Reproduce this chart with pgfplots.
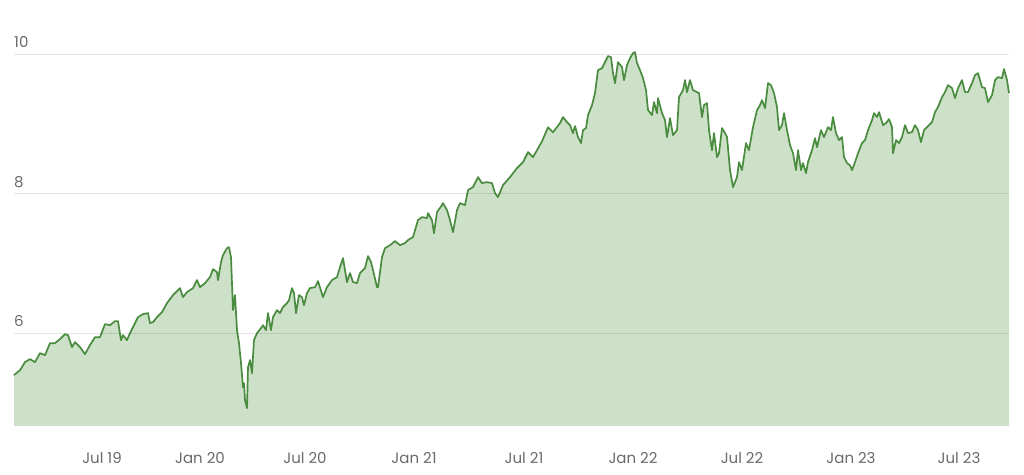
\documentclass[border=0pt]{standalone}
\usepackage{pgfplots}
\pgfplotsset{compat=1.18}
\usepackage{pgfplotstable}
\usetikzlibrary{calc}
\usepackage{fontspec}
\setmainfont{Poppins}
\definecolor{linegreen}{HTML}{4A8C3F}
\definecolor{fillgreen}{HTML}{CDE0C8}
\definecolor{labgray}{HTML}{6A6A6A}
\pgfplotstableread{
x v
14 5.398
20 5.469
25 5.584
30 5.627
35 5.584
40 5.713
45 5.684
50 5.856
55 5.856
60 5.914
65 5.985
68 5.971
72 5.799
75 5.871
80 5.799
85 5.699
90 5.828
95 5.942
100 5.942
105 6.129
110 6.114
115 6.172
118 6.172
121 5.899
123 5.971
127 5.899
130 6.000
133 6.086
138 6.229
143 6.272
148 6.287
150 6.143
153 6.157
157 6.229
162 6.301
167 6.430
173 6.545
180 6.645
183 6.516
187 6.588
193 6.645
197 6.760
200 6.659
205 6.717
210 6.803
213 6.917
217 6.874
218 6.760
221 7.018
223 7.118
227 7.218
229 7.233
231 7.089
233 6.330
235 6.545
237 6.043
239 5.856
241 5.570
243 5.226
244 5.283
245 5.039
247 4.925
248 5.512
250 5.613
252 5.426
254 5.899
257 6.000
261 6.071
263 6.114
266 6.043
268 6.287
271 6.043
273 6.229
277 6.330
280 6.287
283 6.373
287 6.430
289 6.473
292 6.645
294 6.573
296 6.287
299 6.545
302 6.516
304 6.401
307 6.573
310 6.645
315 6.659
318 6.745
323 6.516
327 6.659
332 6.760
337 6.803
340 6.946
343 7.075
347 6.731
350 6.860
353 6.731
357 6.717
360 6.860
365 6.932
368 7.104
371 7.018
373 6.903
377 6.659
378 6.659
382 7.089
385 7.218
390 7.261
395 7.319
400 7.261
405 7.290
408 7.333
413 7.376
418 7.620
422 7.663
427 7.649
428 7.720
432 7.620
434 7.433
437 7.735
442 7.835
443 7.864
447 7.763
450 7.620
453 7.448
457 7.763
460 7.864
465 7.835
468 8.050
473 8.093
478 8.236
482 8.150
487 8.165
492 8.150
495 8.007
498 7.950
503 8.122
510 8.236
517 8.365
523 8.451
528 8.595
533 8.523
537 8.623
542 8.750
548 8.950
553 8.880
560 9.011
563 9.097
567 9.025
570 8.982
573 8.867
575 8.968
578 8.810
581 8.724
583 8.910
586 8.939
588 9.125
592 9.269
595 9.441
598 9.770
602 9.799
605 9.885
608 9.971
611 9.957
613 9.727
615 9.584
618 9.885
622 9.813
624 9.627
627 9.842
630 9.942
633 10.014
635 10.028
637 9.871
640 9.770
643 9.656
646 9.484
648 9.197
652 9.125
654 9.312
657 9.154
658 9.369
662 9.154
665 9.054
667 8.810
670 9.082
673 8.839
677 8.910
679 9.383
683 9.484
685 9.627
687 9.455
690 9.627
693 9.484
697 9.455
699 9.441
702 9.097
704 9.269
707 9.297
709 8.910
712 8.623
714 8.867
717 8.523
719 8.580
722 8.939
725 8.867
727 8.810
730 8.337
733 8.093
737 8.236
739 8.451
742 8.337
746 8.724
749 8.623
753 8.953
757 9.197
760 9.269
762 9.340
765 9.226
768 9.584
771 9.555
774 9.441
777 9.240
779 8.910
782 8.982
784 9.154
787 8.910
790 8.695
793 8.580
796 8.337
798 8.623
801 8.337
803 8.437
806 8.294
808 8.451
812 8.623
815 8.795
817 8.666
821 8.910
824 8.810
828 8.953
831 8.910
833 9.097
836 8.867
839 8.767
842 8.810
844 8.523
847 8.437
850 8.408
852 8.337
855 8.451
858 8.580
862 8.724
865 8.767
868 8.910
872 9.054
874 9.154
877 9.097
879 9.168
883 8.982
886 9.011
889 9.068
892 8.953
893 8.580
896 8.767
899 8.724
902 8.810
905 8.982
908 8.867
912 8.881
915 8.982
918 8.910
921 8.738
924 8.910
927 8.953
932 9.025
935 9.168
938 9.240
942 9.383
945 9.455
948 9.555
952 9.512
955 9.369
958 9.512
962 9.627
965 9.455
968 9.455
972 9.584
975 9.699
978 9.727
982 9.527
985 9.512
988 9.312
992 9.412
995 9.627
998 9.670
1002 9.656
1004 9.785
1007 9.627
1009 9.441
}\navdata
\begin{document}
\begin{tikzpicture}
\begin{axis}[
  scale only axis,
  width=995pt, height=426pt,
  xmin=14, xmax=1009,
  ymin=4.667, ymax=10.774,
  axis line style={draw=none},
  major tick length=0pt,
  xtick={102,200,305,414,524,633,742,851,959},
  xticklabels={Jul 19,Jan 20,Jul 20,Jan 21,Jul 21,Jan 22,Jul 22,Jan 23,Jul 23},
  ytick={6,8,10},
  ymajorgrids,
  grid style={draw=black, opacity=0.1, line width=0.8pt},
  axis on top,
  /pgf/number format/assume math mode=true,
  tick label style={font=\fontsize{15}{17}\selectfont, text=labgray},
  xticklabel style={inner sep=0pt, anchor=north, yshift=-26pt},
  yticklabel style={inner sep=0pt, anchor=south west, xshift=0pt, yshift=6pt},
  clip=false,
]
\addplot[draw=none, fill=fillgreen] table[x=x, y=v] {\navdata} \closedcycle;
\addplot[linegreen, line width=1.7pt, line join=round] table[x=x, y=v] {\navdata};
\end{axis}
\path ($(current axis.south west)+(-14pt,-48pt)$) rectangle ($(current axis.north east)+(15pt,0pt)$);
\end{tikzpicture}
\end{document}
